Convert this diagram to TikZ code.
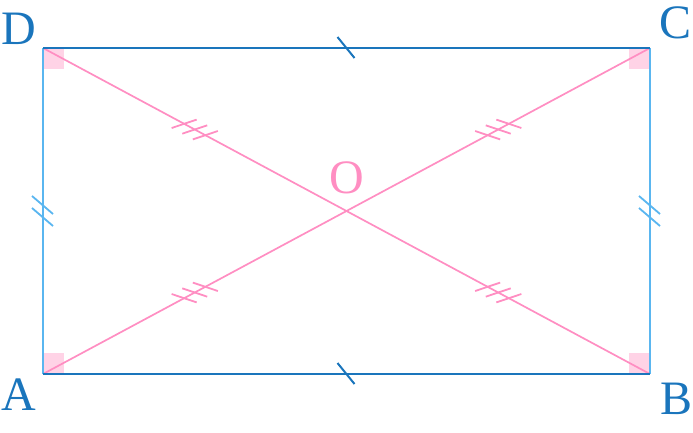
\documentclass[tikz,border=0pt]{standalone}
\usepackage{fontspec}
\setmainfont{Liberation Serif}
\usetikzlibrary{calc}
\definecolor{darkblue}{HTML}{1A75BC}
\definecolor{lightblue}{HTML}{5AB6F0}
\definecolor{pinkline}{HTML}{FF8EC2}
\definecolor{pinkfill}{HTML}{FFD3E6}
\tikzset{
  edgedark/.style={draw=darkblue,line width=2.2pt},
  edgelight/.style={draw=lightblue,line width=2pt},
  diag/.style={draw=pinkline,line width=1.7pt},
  tickdark/.style={draw=darkblue,line width=2pt},
  ticklight/.style={draw=lightblue,line width=1.8pt},
  tickpink/.style={draw=pinkline,line width=1.8pt},
  rightsq/.style={fill=pinkfill},
  vlabel/.style={font=\fontsize{48}{48}\selectfont,text=darkblue,inner sep=0pt},
  olabel/.style={font=\fontsize{48}{48}\selectfont,text=pinkline,inner sep=0pt}
}
\begin{document}
\begin{tikzpicture}[x=1pt,y=-1pt]
\useasboundingbox (0,0) rectangle (693,432);
\coordinate (A) at (43,374);
\coordinate (B) at (650,374);
\coordinate (C) at (650,48);
\coordinate (D) at (43,48);
\coordinate (O) at ($(A)!0.5!(C)$);
% right angle squares
\fill[rightsq] (A) rectangle ++(21,-21);
\fill[rightsq] (B) rectangle ++(-21,-21);
\fill[rightsq] (C) rectangle ++(-21,21);
\fill[rightsq] (D) rectangle ++(21,21);
% diagonals
\draw[diag] (A) -- (C);
\draw[diag] (D) -- (B);
% edges
\draw[edgelight] (A) -- (D);
\draw[edgelight] (B) -- (C);
\draw[edgedark] (D) -- (C);
\draw[edgedark] (A) -- (B);
% single ticks on top/bottom
\draw[tickdark] ($(D)!0.5!(C)$) +(-9,-11) -- +(8,10);
\draw[tickdark] ($(A)!0.5!(B)$) +(-9,-11) -- +(8,10);
% double ticks on sides
\foreach \s in {-6,6} {
  \draw[ticklight] ($(A)!0.5!(D)+(0,\s)$) +(-11,-9) -- +(10,9);
  \draw[ticklight] ($(B)!0.5!(C)+(0,\s)$) +(-11,-9) -- +(10,9);
}
% triple ticks on half diagonals
\foreach \k in {-1,0,1} {
  \draw[tickpink] ($(D)!0.25!(B)+(\k*10.6,\k*5.7)$) +(-12.5,4.2) -- +(12.5,-4.2);
  \draw[tickpink] ($(D)!0.75!(B)+(\k*10.6,\k*5.7)$) +(-12.5,4.2) -- +(12.5,-4.2);
  \draw[tickpink] ($(A)!0.25!(C)+(\k*10.6,-\k*5.7)$) +(-12.5,-4.2) -- +(12.5,4.2);
  \draw[tickpink] ($(A)!0.75!(C)+(\k*10.6,-\k*5.7)$) +(-12.5,-4.2) -- +(12.5,4.2);
}
% labels
\node[vlabel] (lD) at (19,29) {D};
\node[vlabel] (lC) at (675,23) {C};
\node[vlabel] (lA) at (19,395) {A};
\node[vlabel] (lB) at (676,399) {B};
\node[olabel] (lO) at (347,178) {O};
\end{tikzpicture}
\end{document}
